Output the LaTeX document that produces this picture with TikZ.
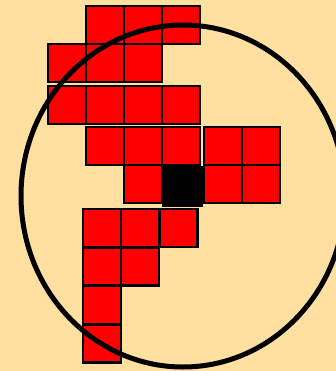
\documentclass[tikz,border=0pt]{standalone}
\usepackage[dvipsnames]{xcolor}
\usepackage{tikz}
\usetikzlibrary{positioning}

\definecolor{sandbg}{RGB}{255,224,160}

\begin{document}
\begin{tikzpicture}[
  x=1pt, y=-1pt,
  cell/.style={rectangle, draw=black, fill=red, line width=2.2pt, minimum size=38pt, inner sep=0pt},
  hole/.style={cell, fill=black, minimum size=39pt},
  ring/.style={draw=black, line width=5pt},
]
\fill[sandbg] (0,0) rectangle (336,371);
\useasboundingbox (0,0) rectangle (336,371);

% top rows
\node[cell] (a1) at (105,25)  {};
\node[cell] (a2) at (143,25)  {};
\node[cell] (a3) at (181,25)  {};
\node[cell] (b1) at (67,63)   {};
\node[cell] (b2) at (105,63)  {};
\node[cell] (b3) at (143,63)  {};
\node[cell] (c1) at (67,105)  {};
\node[cell] (c2) at (105,105) {};
\node[cell] (c3) at (143,105) {};
\node[cell] (c4) at (181,105) {};

% middle rows
\node[cell] (d1) at (105,146) {};
\node[cell] (d2) at (143,146) {};
\node[cell] (d3) at (181,146) {};
\node[cell] (d4) at (223,146) {};
\node[cell] (d5) at (261,146) {};
\node[cell] (e1) at (143,184) {};
\node[hole] (e2) at (182.5,186.5) {};
\node[cell] (e3) at (223,184) {};
\node[cell] (e4) at (261,184) {};

% lower rows
\node[cell] (f1) at (102,228)   {};
\node[cell] (f2) at (140,228)   {};
\node[cell] (f3) at (178.5,228) {};
\node[cell] (g1) at (102,266.5) {};
\node[cell] (g2) at (140,266.5) {};
\node[cell] (h1) at (102,305)   {};
\node[cell] (i1) at (102,343.5) {};

\draw[ring] (183,196) ellipse [x radius=162, y radius=171];
\end{tikzpicture}
\end{document}
